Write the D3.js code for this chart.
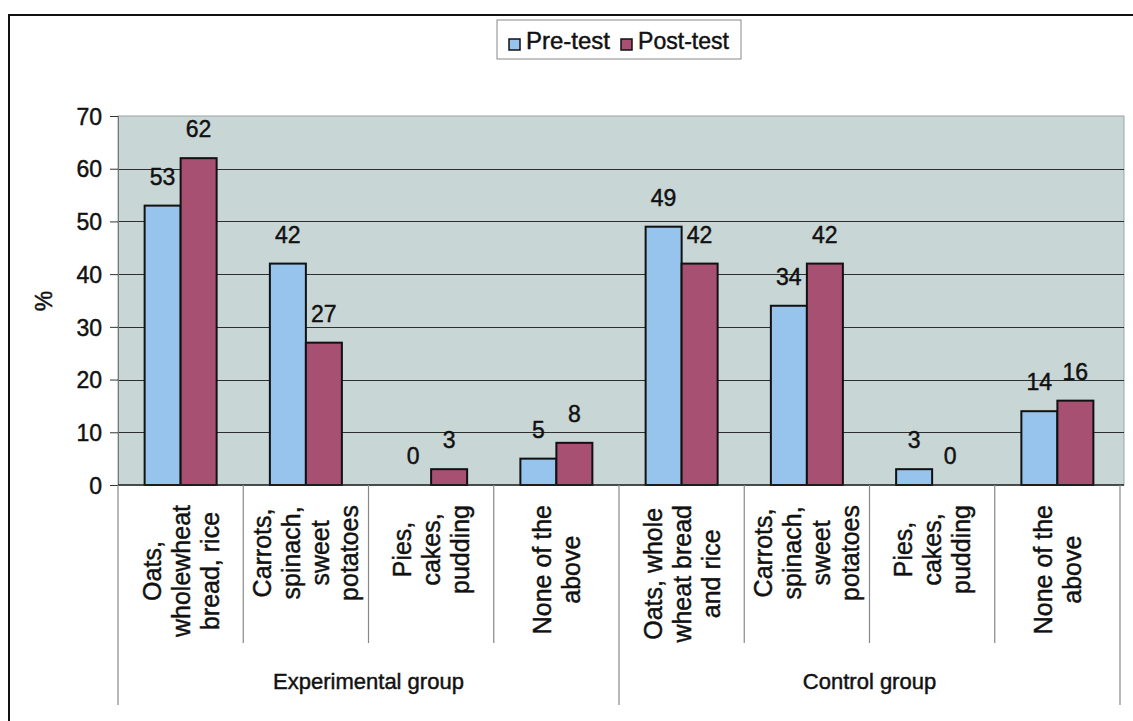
<!DOCTYPE html>
<html>
<head>
<meta charset="utf-8">
<script src="https://cdn.jsdelivr.net/npm/d3@7"></script>
<style>
  html, body { margin: 0; padding: 0; background: #fff; }
  svg { display: block; font-family: "Liberation Sans", Arial, sans-serif; }
  svg text { stroke: #111; stroke-width: 0.45px; }
</style>
</head>
<body>
<svg id="chart" width="1133" height="721"></svg>
<script>
const groups = ["Experimental group", "Control group"];
const categories = [
  ["Oats,", "wholewheat", "bread, rice"],
  ["Carrots,", "spinach,", "sweet", "potatoes"],
  ["Pies,", "cakes,", "pudding"],
  ["None of the", "above"],
  ["Oats, whole", "wheat bread", "and rice"],
  ["Carrots,", "spinach,", "sweet", "potatoes"],
  ["Pies,", "cakes,", "pudding"],
  ["None of the", "above"]
];
const categoryGroup = [0, 0, 0, 0, 1, 1, 1, 1];
const seriesNames = ["Pre-test", "Post-test"];
const preTest = [53, 42, 0, 5, 49, 34, 3, 14];
const postTest = [62, 27, 3, 8, 42, 42, 0, 16];
const yTicks = [0, 10, 20, 30, 40, 50, 60, 70];
const colors = ["#96c4ec", "#a85072"];

(function () {
const svg = d3.select("#chart");
const pLeft = 118, pRight = 1120, pTop = 116, pBottom = 485;

// outer frame
svg.append("line").attr("x1", 8).attr("x2", 1133).attr("y1", 15).attr("y2", 15)
  .attr("stroke", "#111").attr("stroke-width", 2);
svg.append("line").attr("x1", 9).attr("x2", 9).attr("y1", 15).attr("y2", 721)
  .attr("stroke", "#111").attr("stroke-width", 2);

const idx = d3.range(categories.length);
const x = d3.scaleBand().domain(idx).range([pLeft, pRight]).paddingInner(0).paddingOuter(0);
const y = d3.scaleLinear().domain([0, 70]).range([pBottom, pTop]);
const barW = 36;

// plot background
svg.append("rect").attr("x", pLeft).attr("y", pTop).attr("width", pRight - pLeft + 4).attr("height", pBottom - pTop)
  .attr("fill", "#c9d6d6").attr("stroke", "#9aa6a6").attr("stroke-width", 1);

// gridlines
svg.append("g").selectAll("line").data(yTicks.filter(d => d > 0 && d < 70)).join("line")
  .attr("x1", pLeft).attr("x2", pRight + 4)
  .attr("y1", d => Math.round(y(d)) + 0.5).attr("y2", d => Math.round(y(d)) + 0.5)
  .attr("stroke", "#2e2e2e").attr("stroke-width", 1.2);

// y axis
const yAxis = d3.axisLeft(y).tickValues(yTicks).tickSize(8).tickPadding(8);
const gy = svg.append("g").attr("transform", `translate(${pLeft},0)`).call(yAxis);
gy.select(".domain").attr("stroke", "#777");
gy.selectAll(".tick line").attr("stroke", "#333");
gy.selectAll(".tick text").attr("font-size", 23).attr("fill", "#111")
  .attr("font-family", "Liberation Sans, Arial, sans-serif").attr("dy", "0.36em");

// y title
svg.append("text").attr("transform", "translate(52,301) rotate(-90)")
  .attr("text-anchor", "middle").attr("font-size", 23).attr("fill", "#111").text("%");

// bars
const data = idx.map(i => ({ i, vals: [preTest[i], postTest[i]] }));
const gBars = svg.append("g");
data.forEach(d => {
  const cx = x(d.i) + x.bandwidth() / 2;
  d.vals.forEach((v, s) => {
    const bx = cx - barW + s * barW;
    if (v > 0) {
      gBars.append("rect").attr("x", bx).attr("y", y(v)).attr("width", barW).attr("height", y(0) - y(v))
        .attr("fill", colors[s]).attr("stroke", "#111").attr("stroke-width", 2);
    }
    gBars.append("text").attr("x", bx + barW / 2).attr("y", y(v) - 21)
      .attr("text-anchor", "middle").attr("font-size", 23).attr("fill", "#111").text(v);
  });
});

// zero line
svg.append("line").attr("x1", pLeft).attr("x2", pRight + 4).attr("y1", pBottom).attr("y2", pBottom)
  .attr("stroke", "#222").attr("stroke-width", 1.5);

// category separators
const seps = d3.range(categories.length + 1);
svg.append("g").selectAll("line").data(seps).join("line")
  .attr("x1", d => d < categories.length ? x(d) : pRight)
  .attr("x2", d => d < categories.length ? x(d) : pRight)
  .attr("y1", pBottom)
  .attr("y2", d => (d === 0 || d === categories.length || categoryGroup[d] !== categoryGroup[d - 1]) ? 705 : 643)
  .attr("stroke", "#888").attr("stroke-width", 1.2);

// category labels (rotated, lines centred, block anchored at top)
const labTop = 505, lineH = 29, catFont = 25;
idx.forEach(i => {
  const lines = categories[i];
  const cx = x(i) + x.bandwidth() / 2;
  const g = svg.append("g");
  const texts = lines.map(ln => g.append("text").attr("font-size", catFont).attr("fill", "#111")
    .attr("text-anchor", "middle").text(ln));
  const maxLen = d3.max(texts, t => t.node().getComputedTextLength());
  const cy = labTop + maxLen / 2;
  const n = lines.length;
  texts.forEach((t, k) => {
    const bx = cx + (k - (n - 1) / 2) * lineH + 9;
    t.attr("transform", `translate(${bx},${cy}) rotate(-90)`);
  });
});

// group labels
groups.forEach((gname, gi) => {
  const members = idx.filter(i => categoryGroup[i] === gi);
  const x0 = x(members[0]);
  const x1 = x(members[members.length - 1]) + x.bandwidth();
  svg.append("text").attr("x", (x0 + x1) / 2).attr("y", 689)
    .attr("text-anchor", "middle").attr("font-size", 22).attr("fill", "#111").text(gname);
});

// legend
const lg = svg.append("g");
lg.append("rect").attr("x", 497).attr("y", 20).attr("width", 244).attr("height", 39)
  .attr("fill", "#fff").attr("stroke", "#888").attr("stroke-width", 1);
const legendX = [509, 621];
seriesNames.forEach((nm, s) => {
  lg.append("rect").attr("x", legendX[s]).attr("y", 39).attr("width", 11).attr("height", 11)
    .attr("fill", colors[s]).attr("stroke", "#111").attr("stroke-width", 1.5);
  lg.append("text").attr("x", legendX[s] + 17).attr("y", 49).attr("font-size", 23)
    .attr("fill", "#111").attr("textLength", s === 0 ? 84 : 91).attr("lengthAdjust", "spacingAndGlyphs").text(nm);
});
})();
</script>
</body>
</html>
